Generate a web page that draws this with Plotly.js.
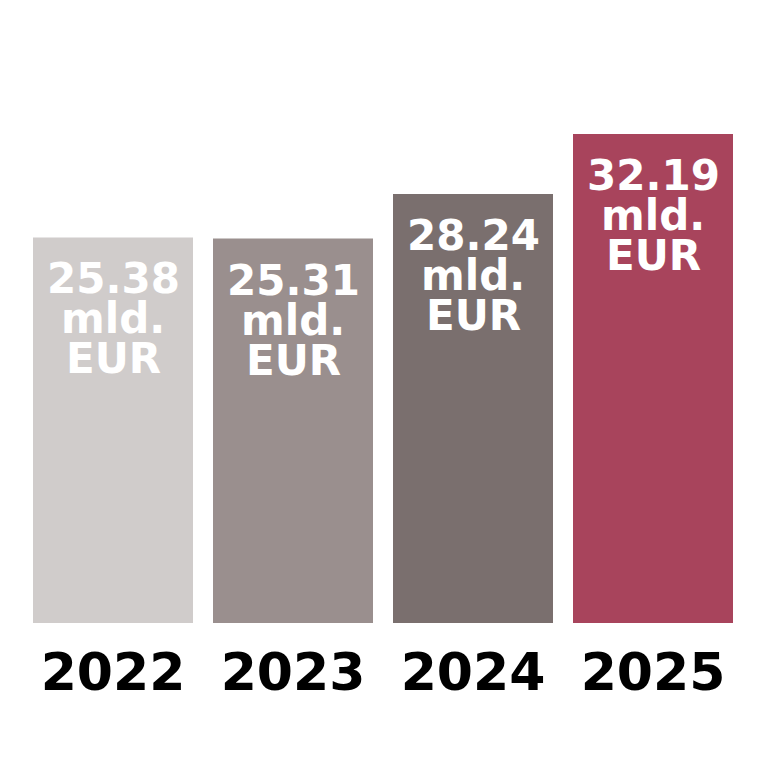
<!DOCTYPE html>
<html>
<head>
<meta charset="utf-8">
<script src="https://cdn.plot.ly/plotly-3.0.1.min.js"></script>
<style>html,body{margin:0;padding:0;background:#fff;}#chart{width:768px;height:768px;}</style>
</head>
<body>
<div id="chart"></div>
<script>
const years = ['2022', '2023', '2024', '2025'];
const values = [25.38, 25.31, 28.24, 32.19];
const unitLine1 = 'mld.';
const unitLine2 = 'EUR';
const barColors = ['#D0CCCB', '#9A8F8E', '#7A6F6E', '#A8445C'];

const FONT = 'DejaVu Sans, Verdana, sans-serif';

const trace = {
  type: 'bar',
  x: years,
  y: values,
  marker: {color: barColors, line: {width: 0}},
  hoverinfo: 'none'
};

const annotations = [];
years.forEach((yr, i) => {
  const lines = [values[i].toFixed(2), unitLine1, unitLine2];
  lines.forEach((t, k) => {
    annotations.push({
      x: i, y: values[i], xref: 'x', yref: 'y',
      text: t, showarrow: false,
      yanchor: 'middle', xanchor: 'center',
      height: 38, borderpad: 0,
      yshift: -(41 + 40 * k),
      font: {family: FONT, size: 42, color: '#ffffff', weight: 'bold'}
    });
  });
});

const layout = {
  width: 768, height: 768,
  margin: {l: 23, r: 25, t: 50, b: 145},
  paper_bgcolor: '#ffffff', plot_bgcolor: '#ffffff',
  bargap: 20 / 180,
  showlegend: false,
  xaxis: {
    type: 'category',
    range: [-0.5, years.length - 0.5],
    autorange: false,
    showgrid: false, zeroline: false, showline: false, ticks: '',
    tickfont: {family: FONT, size: 52, color: '#000000', weight: 'bold'},
    ticklabelstandoff: 14
  },
  yaxis: {
    range: [0, 37.72],
    autorange: false,
    visible: false, showgrid: false, zeroline: false
  },
  annotations: annotations
};

Plotly.newPlot('chart', [trace], layout, {staticPlot: true, displayModeBar: false});
</script>
</body>
</html>
